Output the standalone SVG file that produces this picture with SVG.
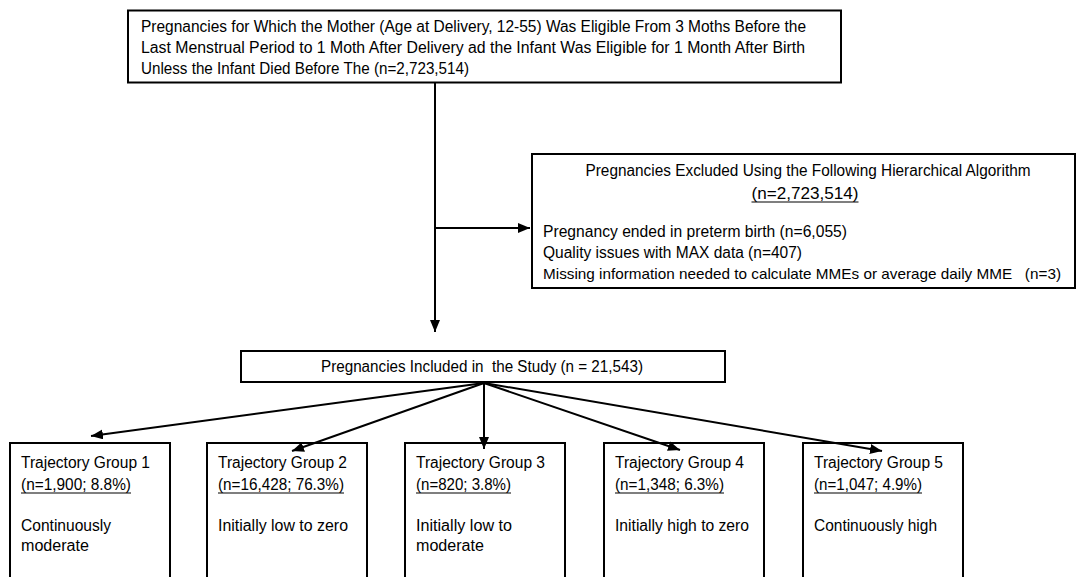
<svg xmlns="http://www.w3.org/2000/svg" width="1079" height="577" viewBox="0 0 1079 577">
<style>
.box{fill:#fff;stroke:#000;stroke-width:2}
.t{font-family:"Liberation Sans",Arial,sans-serif;font-size:16px;fill:#000}
.s{font-size:14.6px}
.ul{stroke:#000;stroke-width:1.2}
.c{fill:none;stroke:#000;stroke-width:2}
</style>
<defs>
<marker id="ah" markerUnits="userSpaceOnUse" markerWidth="14" markerHeight="12" refX="12" refY="5" orient="auto">
<path d="M0,0 L12,5 L0,10 Z" fill="#000"/>
</marker>
</defs>
<rect width="1079" height="577" fill="#fff"/>
<g id="top">
<rect class="box" x="128" y="10.5" width="713" height="72"/>
<text class="t" x="141" y="32" textLength="665" lengthAdjust="spacingAndGlyphs">Pregnancies for Which the Mother (Age at Delivery, 12-55) Was Eligible From 3 Moths Before the</text>
<text class="t" x="141" y="53" textLength="664" lengthAdjust="spacingAndGlyphs">Last Menstrual Period to 1 Moth After Delivery ad the Infant Was Eligible for 1 Month After Birth</text>
<text class="t" x="141" y="74" textLength="328" lengthAdjust="spacingAndGlyphs">Unless the Infant Died Before The (n=2,723,514)</text>
</g>
<g id="excluded">
<rect class="box" x="532" y="154" width="543" height="134"/>
<text class="t" x="808" y="176" text-anchor="middle" textLength="445" lengthAdjust="spacingAndGlyphs">Pregnancies Excluded Using the Following Hierarchical Algorithm</text>
<text class="t" x="805" y="199" text-anchor="middle" textLength="107" lengthAdjust="spacingAndGlyphs">(n=2,723,514)</text>
<line class="ul" x1="751.5" y1="202" x2="858.5" y2="202"/>
<text class="t" x="543" y="237" textLength="304" lengthAdjust="spacingAndGlyphs">Pregnancy ended in preterm birth (n=6,055)</text>
<text class="t" x="543" y="258" textLength="259" lengthAdjust="spacingAndGlyphs">Quality issues with MAX data (n=407)</text>
<text class="t s" x="543" y="279" textLength="518" lengthAdjust="spacingAndGlyphs" xml:space="preserve">Missing information needed to calculate MMEs or average daily MME   (n=3)</text>
</g>
<g id="included">
<rect class="box" x="241" y="351" width="484" height="31"/>
<text class="t" x="482" y="372" text-anchor="middle" textLength="322" lengthAdjust="spacingAndGlyphs" xml:space="preserve">Pregnancies Included in  the Study (n = 21,543)</text>
</g>
<g id="group1">
<rect class="box" x="10" y="443" width="160" height="150"/>
<text class="t" x="21" y="468" textLength="129" lengthAdjust="spacingAndGlyphs">Trajectory Group 1</text>
<text class="t" x="21" y="490" textLength="110" lengthAdjust="spacingAndGlyphs">(n=1,900; 8.8%)</text>
<line class="ul" x1="21" y1="493" x2="131" y2="493"/>
<text class="t" x="21" y="531" textLength="90" lengthAdjust="spacingAndGlyphs">Continuously</text>
<text class="t" x="21" y="551" textLength="68" lengthAdjust="spacingAndGlyphs">moderate</text>
</g>
<g id="group2">
<rect class="box" x="207" y="443" width="160" height="150"/>
<text class="t" x="218" y="468" textLength="129" lengthAdjust="spacingAndGlyphs">Trajectory Group 2</text>
<text class="t" x="218" y="490" textLength="126" lengthAdjust="spacingAndGlyphs">(n=16,428; 76.3%)</text>
<line class="ul" x1="218" y1="493" x2="344" y2="493"/>
<text class="t" x="218" y="531" textLength="130" lengthAdjust="spacingAndGlyphs">Initially low to zero</text>
</g>
<g id="group3">
<rect class="box" x="405" y="443" width="160" height="150"/>
<text class="t" x="416" y="468" textLength="129" lengthAdjust="spacingAndGlyphs">Trajectory Group 3</text>
<text class="t" x="416" y="490" textLength="95" lengthAdjust="spacingAndGlyphs">(n=820; 3.8%)</text>
<line class="ul" x1="416" y1="493" x2="511" y2="493"/>
<text class="t" x="416" y="531" textLength="96" lengthAdjust="spacingAndGlyphs">Initially low to</text>
<text class="t" x="416" y="551" textLength="68" lengthAdjust="spacingAndGlyphs">moderate</text>
</g>
<g id="group4">
<rect class="box" x="604" y="443" width="160" height="150"/>
<text class="t" x="615" y="468" textLength="129" lengthAdjust="spacingAndGlyphs">Trajectory Group 4</text>
<text class="t" x="615" y="490" textLength="109" lengthAdjust="spacingAndGlyphs">(n=1,348; 6.3%)</text>
<line class="ul" x1="615" y1="493" x2="724" y2="493"/>
<text class="t" x="615" y="531" textLength="134" lengthAdjust="spacingAndGlyphs">Initially high to zero</text>
</g>
<g id="group5">
<rect class="box" x="803" y="443" width="160" height="150"/>
<text class="t" x="814" y="468" textLength="129" lengthAdjust="spacingAndGlyphs">Trajectory Group 5</text>
<text class="t" x="814" y="490" textLength="108" lengthAdjust="spacingAndGlyphs">(n=1,047; 4.9%)</text>
<line class="ul" x1="814" y1="493" x2="922" y2="493"/>
<text class="t" x="814" y="531" textLength="123" lengthAdjust="spacingAndGlyphs">Continuously high</text>
</g>
<g id="connectors">
<path class="c" d="M435,82 V332" marker-end="url(#ah)"/>
<path class="c" d="M435,228 H530" marker-end="url(#ah)"/>
<path class="c" d="M484,383 L91,436" marker-end="url(#ah)"/>
<path class="c" d="M484,383 L292,451" marker-end="url(#ah)"/>
<path class="c" d="M484,383 L484,449" marker-end="url(#ah)"/>
<path class="c" d="M484,383 L680,450" marker-end="url(#ah)"/>
<path class="c" d="M484,383 L882,451" marker-end="url(#ah)"/>
</g>
</svg>
